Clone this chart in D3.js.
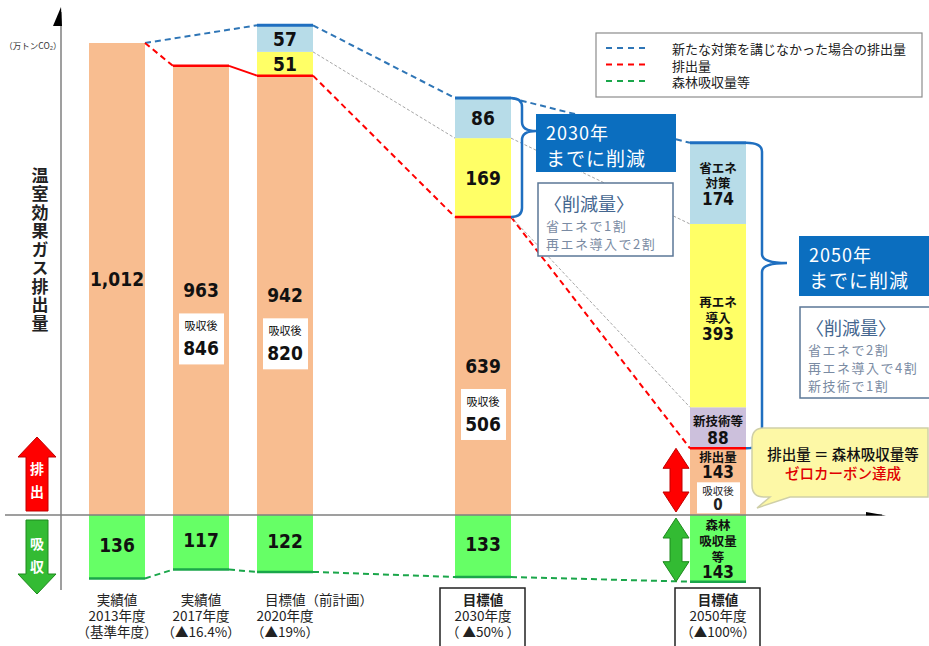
<!DOCTYPE html>
<html>
<head>
<meta charset="utf-8">
<script src="https://cdn.jsdelivr.net/npm/d3@7"></script>
<style>
  body { margin: 0; background: #fff; }
  svg { display: block; font-family: "Noto Sans CJK JP", sans-serif; }
  .num { font-family: "DejaVu Sans Condensed", "DejaVu Sans", sans-serif; font-stretch: condensed; font-weight: bold; }
</style>
</head>
<body>
<div id="chart"></div>
<script>
// Data
var categories = ["2013", "2017", "2020", "2030", "2050"];
var emissions = [1012, 963, 942, 639, 143];     // 排出量
var newTech = [0, 0, 0, 0, 88];                 // 新技術等
var renewable = [0, 0, 51, 169, 393];           // 再エネ導入
var energySaving = [0, 0, 57, 86, 174];         // 省エネ対策
var absorption = [136, 117, 122, 133, 143];     // 森林吸収量等
var afterAbsorb = [null, 846, 820, 506, 0];     // 吸収後
var emissionText = ["1,012", "963", "942", "639", "143"];
var xLabels = [
  ["実績値", "2013年度", "（基準年度）"],
  ["実績値", "2017年度", "（▲16.4%）"],
  ["目標値（前計画）", "2020年度", "（▲19%）"],
  ["目標値", "2030年度", "（ ▲50% ）"],
  ["目標値", "2050年度", "（▲100%）"]
];
var legendLabels = ["新たな対策を講じなかった場合の排出量", "排出量", "森林吸収量等"];

var svgWidth = 929;
var svgHeight = 646;
var barW = 56;
var colors = { emit: "#f8bd90", tech: "#ccc0dc", renew: "#ffff66", save: "#b7dce8", absorb: "#66ff66" };

var svg = d3.select("#chart").append("svg")
    .attr("width", svgWidth)
    .attr("height", svgHeight);

// Scales
var xCenter = d3.scaleOrdinal().domain(categories).range([117, 201, 285, 483, 718]);
var yScale = d3.scaleLinear().domain([0, 1000]).range([515, 515 - 466.4]);

var table = categories.map(function(c, i) {
  return { cat: c, emit: emissions[i], tech: newTech[i], renew: renewable[i], save: energySaving[i] };
});
var stack = d3.stack().keys(["emit", "tech", "renew", "save"])(table);

// Bars (stacked upward)
stack.forEach(function(layer) {
  svg.append("g").selectAll("rect")
    .data(layer.filter(function(d) { return d[1] > d[0]; }))
    .enter().append("rect")
    .attr("x", function(d) { return xCenter(d.data.cat) - barW / 2; })
    .attr("y", function(d) { return yScale(d[1]); })
    .attr("width", barW)
    .attr("height", function(d) { return yScale(d[0]) - yScale(d[1]); })
    .attr("fill", colors[layer.key]);
});

// Absorption bars (downward)
svg.append("g").selectAll("rect")
  .data(categories)
  .enter().append("rect")
  .attr("x", function(c) { return xCenter(c) - barW / 2; })
  .attr("y", yScale(0))
  .attr("width", barW)
  .attr("height", function(c, i) { return yScale(-absorption[i]) - yScale(0); })
  .attr("fill", colors.absorb);

// Axes
var axisG = svg.append("g").attr("stroke", "#7f7f7f").attr("fill", "none");
axisG.append("line").attr("x1", 61).attr("x2", 61).attr("y1", 12).attr("y2", 590).attr("stroke-width", 1.5);
svg.append("path").attr("d", "M61,7 L53,26 L62,26 Z").attr("fill", "#000");
axisG.append("line").attr("x1", 5).attr("x2", 882).attr("y1", yScale(0)).attr("y2", yScale(0)).attr("stroke-width", 1.5);
svg.append("path").attr("d", "M866,512 L886,515.5 L866,515.5 Z").attr("fill", "#000");

// Connecting lines
function drawPath(pts, color, dashed, width) {
  svg.append("path")
    .attr("d", d3.line()(pts))
    .attr("fill", "none")
    .attr("stroke", color)
    .attr("stroke-width", width)
    .attr("stroke-dasharray", dashed ? "6,4" : null);
}
function left(i) { return xCenter(categories[i]) - barW / 2; }
function right(i) { return xCenter(categories[i]) + barW / 2; }
function total(i) { return emissions[i] + newTech[i] + renewable[i] + energySaving[i]; }

var blue = "#2e75b6", red = "#ff0000", green = "#1aa64a", gray = "#a6a6a6";

// blue: without new measures
var blueBars = [0, 2, 3, 4];
blueBars.forEach(function(b, k) {
  if (k > 0) drawPath([[left(b), yScale(total(b))], [right(b), yScale(total(b))]], "#1f6fc0", false, 3);
  if (k < blueBars.length - 1) {
    var n = blueBars[k + 1];
    drawPath([[right(b), yScale(total(b))], [left(n), yScale(total(n))]], blue, true, 2);
  }
});

// red: emissions
categories.forEach(function(c, i) {
  if (i > 0) drawPath([[left(i), yScale(emissions[i])], [right(i), yScale(emissions[i])]], red, false, 2.5);
  if (i < categories.length - 1) {
    drawPath([[right(i), yScale(emissions[i])], [left(i + 1), yScale(emissions[i + 1])]], red, i !== 1, 2);
  }
});

// green: absorption
categories.forEach(function(c, i) {
  drawPath([[left(i), yScale(-absorption[i])], [right(i), yScale(-absorption[i])]], green, false, 2.5);
  if (i < categories.length - 1) {
    drawPath([[right(i), yScale(-absorption[i])], [left(i + 1), yScale(-absorption[i + 1])]], green, true, 2);
  }
});

// thin gray guides
function grayLine(i, v1, j, v2) {
  svg.append("path")
    .attr("d", d3.line()([[right(i), yScale(v1)], [left(j), yScale(v2)]]))
    .attr("stroke", gray).attr("stroke-width", 1).attr("stroke-dasharray", "3,2").attr("fill", "none");
}
grayLine(2, emissions[2] + renewable[2], 3, emissions[3] + renewable[3]);
grayLine(3, emissions[3] + renewable[3], 4, emissions[4] + newTech[4] + renewable[4]);
grayLine(3, emissions[3], 4, emissions[4] + newTech[4]);

// Labels
function label(x, y, txt, size, cls, color, anchor) {
  return svg.append("text")
    .attr("x", x).attr("y", y)
    .attr("text-anchor", anchor || "middle")
    .attr("dominant-baseline", "central")
    .attr("class", cls || null)
    .attr("font-size", size)
    .attr("fill", color || "#111")
    .text(txt);
}
// one text element, several lines: items are [text, y, size, isNumber]
function block(x, items, color, weight, anchor) {
  var t = svg.append("text")
    .attr("text-anchor", anchor || "middle")
    .attr("dominant-baseline", "central")
    .attr("fill", color || "#111");
  items.forEach(function(it) {
    t.append("tspan")
      .attr("x", it.length > 4 ? it[4] : x).attr("y", it[1])
      .attr("font-size", it[2])
      .attr("class", it[3] ? "num" : null)
      .attr("font-weight", it[3] ? null : (weight || null))
      .text(it[0]);
  });
  return t;
}

for (var i = 0; i < 4; i++) {
  var cx = xCenter(categories[i]);
  var mid = (yScale(emissions[i]) + yScale(0)) / 2;
  if (afterAbsorb[i] !== null) {
    svg.append("rect").attr("x", cx - 22).attr("y", mid + 23).attr("width", 45).attr("height", 51).attr("fill", "#fff");
    block(cx, [[emissionText[i], mid, 19, true], ["吸収後", mid + 35, 11, false], [afterAbsorb[i], mid + 58, 19, true]]);
  } else {
    label(cx, mid, emissionText[i], 19, "num");
  }
  label(cx, (yScale(0) + yScale(-absorption[i])) / 2 - 2, absorption[i], 19, "num");
  if (renewable[i] > 0) {
    label(cx, yScale(emissions[i] + renewable[i] / 2), renewable[i], 19, "num");
    label(cx, yScale(emissions[i] + renewable[i] + energySaving[i] / 2), energySaving[i], 19, "num");
  }
}

// 2050 bar labels
var c5 = xCenter(categories[4]);
var saveMid = yScale(emissions[4] + newTech[4] + renewable[4] + energySaving[4] / 2);
block(c5, [["省エネ", saveMid - 16, 12.5], ["対策", saveMid - 1, 12.5], [energySaving[4], saveMid + 16, 17, true]], "#111", "bold");
var renewMid = yScale(emissions[4] + newTech[4] + renewable[4] / 2);
block(c5, [["再エネ", renewMid - 15, 12.5], ["導入", renewMid + 1, 12.5], [renewable[4], renewMid + 18, 17, true]], "#111", "bold");
var techMid = yScale(emissions[4] + newTech[4] / 2);
block(c5, [["新技術等", techMid - 8, 12.5], [newTech[4], techMid + 10, 17, true]], "#111", "bold");
var emitTop = yScale(emissions[4]);
svg.append("rect").attr("x", c5 - 21).attr("y", emitTop + 34).attr("width", 43).attr("height", 31).attr("fill", "#fff");
block(c5, [["排出量", emitTop + 8, 12.5], [emissionText[4], emitTop + 24, 17, true]], "#111", "bold");
block(c5, [["吸収後", emitTop + 42, 10.5], [afterAbsorb[4], emitTop + 57, 15, true]], "#222");
var absMid = (yScale(0) + yScale(-absorption[4])) / 2;
block(c5, [["森林", absMid - 24, 12.5], ["吸収量", absMid - 8, 12.5], ["等", absMid + 8, 12.5], [absorption[4], absMid + 24, 17, true]], "#111", "bold");

// X labels
xLabels.forEach(function(lines, i) {
  var cx = xCenter(categories[i]);
  if (i >= 3) {
    svg.append("rect").attr("x", cx - 43).attr("y", 588).attr("width", 85).attr("height", 62)
      .attr("fill", "#fff").attr("stroke", "#222").attr("stroke-width", 1.5);
  }
  var t = svg.append("text").attr("dominant-baseline", "central").attr("fill", "#222").attr("font-size", 13.5);
  lines.forEach(function(s, k) {
    var start = (i === 2 && k === 0);
    t.append("tspan")
      .attr("x", start ? cx - 20 : cx)
      .attr("y", 599 + k * 16)
      .attr("text-anchor", start ? "start" : "middle")
      .attr("font-weight", i >= 3 && k === 0 ? "bold" : null)
      .text(s);
  });
});

// Curly braces
function brace(x0, xv, xt, y0, ym, y1) {
  var r = 9;
  var d = "M" + x0 + "," + y0 + " Q" + xv + "," + y0 + " " + xv + "," + (y0 + r) +
    " L" + xv + "," + (ym - r) + " Q" + xv + "," + ym + " " + xt + "," + ym +
    " Q" + xv + "," + ym + " " + xv + "," + (ym + r) +
    " L" + xv + "," + (y1 - r) + " Q" + xv + "," + y1 + " " + x0 + "," + y1;
  svg.append("path").attr("d", d).attr("fill", "none").attr("stroke", "#1f6fc0").attr("stroke-width", 2.5);
}
brace(right(3), 522, 536, yScale(total(3)), 131, yScale(emissions[3]));
brace(right(4), 762, 787, yScale(total(4)), 263, yScale(emissions[4]));

// Annotation boxes
function blueBox(x, y, w, h, year) {
  svg.append("rect").attr("x", x).attr("y", y).attr("width", w).attr("height", h).attr("fill", "#0b6ebf");
  block(x + 10, [[year, y + 18, 18], ["までに削減", y + 43, 19]], "#fff", null, "start").attr("letter-spacing", 1);
}
function reduceBox(x, y, w, h, lines) {
  svg.append("rect").attr("x", x).attr("y", y).attr("width", w).attr("height", h)
    .attr("fill", "#fff").attr("stroke", "#5b7797").attr("stroke-width", 1.5);
  label(x + 6, y + 20, "〈削減量〉", 18, null, "#44668f", "start");
  block(x + 8, lines.map(function(t, k) { return [t, y + 42 + k * 18, 13]; }), "#7a8ba3", null, "start")
    .attr("letter-spacing", 1.5);
}
blueBox(536, 114, 140, 58, "2030年");
reduceBox(538, 183, 135, 73, ["省エネで1割", "再エネ導入で2割"]);
blueBox(799, 236, 132, 60, "2050年");
reduceBox(800, 307, 135, 91, ["省エネで2割", "再エネ導入で4割", "新技術で1割"]);

// Callout
svg.append("path")
  .attr("d", "M764,428 L928,428 L928,497 L790,497 L757,508 L770,497 L764,497 Q752,497 752,485 L752,440 Q752,428 764,428 Z")
  .attr("fill", "#fdf8a6").attr("stroke", "#cfcfa8").attr("stroke-width", 1.5);
var callout = svg.append("text").attr("text-anchor", "middle").attr("dominant-baseline", "central")
  .attr("font-size", 14.5).attr("font-weight", 500);
callout.append("tspan").attr("x", 843).attr("y", 453).attr("fill", "#111").text("排出量 ＝ 森林吸収量等");
callout.append("tspan").attr("x", 843).attr("y", 472).attr("fill", "#e00000").text("ゼロカーボン達成");

// Double arrows next to 2050 bar
function doubleArrow(x, y0, y1, fill, stroke) {
  var hw = 13, sw = 6, hh = 20;
  var d = "M" + x + "," + y0 + " L" + (x + hw) + "," + (y0 + hh) + " L" + (x + sw) + "," + (y0 + hh) +
    " L" + (x + sw) + "," + (y1 - hh) + " L" + (x + hw) + "," + (y1 - hh) + " L" + x + "," + y1 +
    " L" + (x - hw) + "," + (y1 - hh) + " L" + (x - sw) + "," + (y1 - hh) + " L" + (x - sw) + "," + (y0 + hh) +
    " L" + (x - hw) + "," + (y0 + hh) + " Z";
  svg.append("path").attr("d", d).attr("fill", fill).attr("stroke", stroke).attr("stroke-width", 1);
}
doubleArrow(676, yScale(emissions[4]), yScale(0) - 3, "#ff0000", "#c00000");
doubleArrow(676, yScale(0) + 3, yScale(-absorption[4]), "#33bb33", "#1e8a1e");

// Left side arrows
svg.append("path").attr("d", "M37,437 L56,457 L48,457 L48,511 L26,511 L26,457 L18,457 Z")
  .attr("fill", "#ff0000").attr("stroke", "#c00000");
block(37, [["排", 468, 14], ["出", 491, 14]], "#fff", "bold");
svg.append("path").attr("d", "M26,520 L48,520 L48,574 L56,574 L37,594 L18,574 L26,574 Z")
  .attr("fill", "#33bb33").attr("stroke", "#1e8a1e");
block(37, [["吸", 543, 14], ["収", 566, 14]], "#fff", "bold");

// Y title (vertical) & unit
svg.append("text")
  .attr("x", 40).attr("y", 167)
  .attr("writing-mode", "vertical-rl")
  .style("writing-mode", "vertical-rl")
  .attr("font-size", 17).attr("font-weight", "bold").attr("fill", "#222")
  .attr("letter-spacing", 1.5)
  .text("温室効果ガス排出量");
label(33, 45, "（万トンCO₂）", 8.5, null, "#333");

// Legend
svg.append("rect").attr("x", 596).attr("y", 33).attr("width", 326).attr("height", 64)
  .attr("fill", "#fff").attr("stroke", "#8c8c8c").attr("stroke-width", 1.2);
var legendColors = [blue, red, green];
legendLabels.forEach(function(t, k) {
  var y = 48 + k * 16.5;
  svg.append("line").attr("x1", 606).attr("x2", 650).attr("y1", y).attr("y2", y)
    .attr("stroke", legendColors[k]).attr("stroke-width", 2).attr("stroke-dasharray", "6,5");
});
block(672, legendLabels.map(function(t, k) { return [t, 48 + k * 16.5, 13]; }), "#222", null, "start");
</script>
</body>
</html>
